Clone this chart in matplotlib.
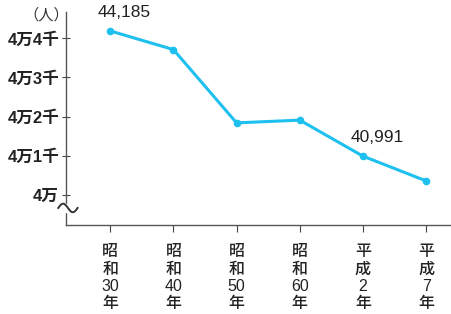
import numpy as np
import matplotlib
matplotlib.use("Agg")
import matplotlib.pyplot as plt

plt.rcParams['font.family'] = ['Liberation Sans', 'Noto Sans CJK JP', 'DejaVu Sans']

# data
years = ['昭\n和\n30\n年', '昭\n和\n40\n年', '昭\n和\n50\n年',
         '昭\n和\n60\n年', '平\n成\n2\n年', '平\n成\n7\n年']
people = [44185, 43710, 41840, 41910, 40991, 40360]
ytick_vals = [40000, 41000, 42000, 43000, 44000]
ytick_labels = ['4万', '4万1千', '4万2千', '4万3千', '4万4千']
labelled = {0: '44,185', 4: '40,991'}

line_color = '#1ec0ef'

fig = plt.figure(figsize=(4.52, 3.14), dpi=100)
ax = fig.add_axes([66 / 452, 1 - 225 / 314, 386 / 452, 213 / 314])

x = np.arange(len(years))
ax.plot(x, people, color=line_color, lw=2.2, marker='o', ms=5.5,
        markeredgewidth=0, solid_capstyle='round')

for i, txt in labelled.items():
    ax.annotate(txt, (x[i], people[i]), xytext=(10, 8), textcoords='offset points',
                ha='center', va='bottom', fontsize=12.5, color='#222222')

ax.set_xlim(-0.70, 5.41)
ax.set_ylim(39235, 44668)

ax.set_xticks(x)
ax.set_xticklabels(years, fontsize=11.5, linespacing=1.18, color='#222222',
                   fontweight='medium')
ax.set_yticks(ytick_vals)
ax.set_yticklabels(ytick_labels, fontsize=12, color='#222222', fontweight='bold')

ax.tick_params(axis='x', direction='out', length=5, width=0.8, color='#444444', pad=9)
ax.tick_params(axis='y', direction='inout', length=6, width=0.8, color='#444444', pad=2)

for side in ['top', 'right']:
    ax.spines[side].set_visible(False)
ax.spines['left'].set_color('#555555')
ax.spines['bottom'].set_color('#555555')
ax.spines['left'].set_linewidth(1.0)
ax.spines['bottom'].set_linewidth(1.0)

# axis break squiggle
t = np.linspace(0, 1, 50)
bx = -0.02 + 0.05 * t
by = 0.08 + 0.02 * np.sin(2 * np.pi * t)
ax.fill_between([-0.01, 0.01], 0.06, 0.1, color='white', transform=ax.transAxes,
                clip_on=False, zorder=3)
ax.plot(bx, by, color='#333333', lw=1.4, transform=ax.transAxes, clip_on=False, zorder=4)

fig.text(46 / 452, 1 - 15 / 314, '（人）', ha='center', va='center', fontsize=11,
         color='#333333')

fig.savefig('out.png', dpi=100, facecolor='white')
